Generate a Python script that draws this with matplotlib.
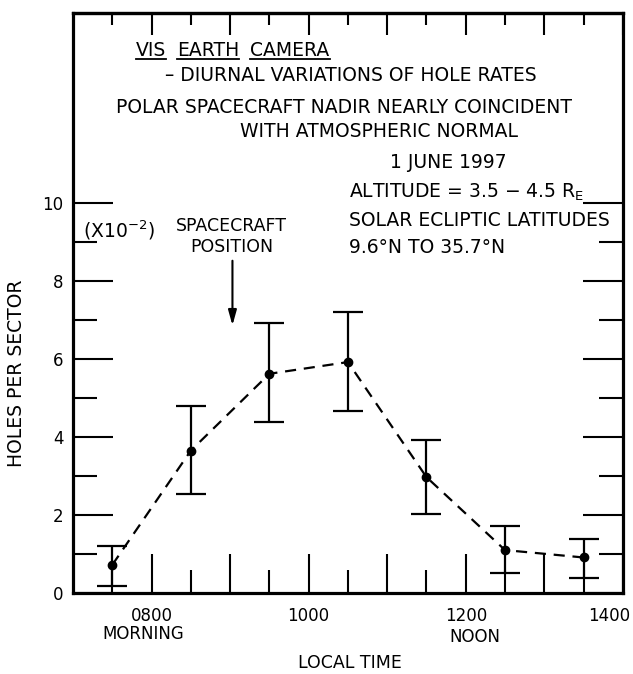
import matplotlib
matplotlib.use("Agg")
import matplotlib.pyplot as plt
import matplotlib.transforms as mtransforms
import numpy as np

# local time of each sample, decimal hours
local_time = [7.5, 8.5, 9.5, 10.5, 11.5, 12.5, 13.5]
# holes per sector (x 10^-2) with error bar ends
holes = [0.72, 3.65, 5.62, 5.92, 2.97, 1.10, 0.91]
holes_low = [0.18, 2.54, 4.38, 4.67, 2.03, 0.52, 0.38]
holes_high = [1.21, 4.79, 6.92, 7.20, 3.92, 1.72, 1.38]

hour_ticks = [8, 9, 10, 11, 12, 13, 14]
hour_labels = ['0800', '', '1000', '', '1200', '', '1400']
half_hour_ticks = [7.5, 8.5, 9.5, 10.5, 11.5, 12.5, 13.5]
y_ticks = [0, 2, 4, 6, 8, 10]
y_minor = [1, 3, 5, 7, 9]

plt.rcParams['font.family'] = ['DejaVu Sans']
FS = 13.5      # annotation text
TFS = 12       # tick labels

fig = plt.figure(figsize=(6.33, 6.74), dpi=100)
ax = fig.add_axes([0.1153, 0.1202, 0.8687, 0.8605])

y = np.array(holes)
yerr = [y - np.array(holes_low), np.array(holes_high) - y]
ax.errorbar(local_time, holes, yerr=yerr, fmt='o', color='black', ms=6,
            elinewidth=1.6, capsize=11, capthick=1.6, zorder=3)
ax.plot(local_time, holes, color='black', lw=1.6, linestyle=(0, (5, 3.5)), zorder=2)

ax.set_xlim(7, 14)
ax.set_ylim(0, 14.87)

for s in ax.spines.values():
    s.set_linewidth(2.3)

# bottom / left / right ticks
ax.set_xticks(hour_ticks)
ax.set_xticklabels(hour_labels, fontsize=TFS)
ax.set_xticks(half_hour_ticks, minor=True)
ax.set_yticks(y_ticks)
ax.set_yticklabels([str(v) for v in y_ticks], fontsize=TFS)
ax.set_yticks(y_minor, minor=True)
ax.tick_params(axis='x', which='both', direction='in', top=False, bottom=True, width=1.5, pad=10)
ax.tick_params(axis='x', which='major', length=28)
ax.tick_params(axis='x', which='minor', length=16.5)
ax.tick_params(axis='y', which='both', direction='in', left=True, right=True, width=1.5, pad=7)
ax.tick_params(axis='y', which='major', length=29)
ax.tick_params(axis='y', which='minor', length=17)

# last label sits against the right edge
lbl = ax.get_xticklabels()[-1]
lbl.set_transform(lbl.get_transform() + mtransforms.ScaledTranslation(-14 / 100, 0, fig.dpi_scale_trans))

# top ticks are shorter
top = ax.secondary_xaxis('top')
top.set_xticks(hour_ticks)
top.set_xticks(half_hour_ticks, minor=True)
top.set_xticklabels([])
top.tick_params(which='both', direction='in', width=1.5)
top.tick_params(which='major', length=16)
top.tick_params(which='minor', length=8.5)
top.spines['top'].set_linewidth(2.3)

ax.set_ylabel('HOLES PER SECTOR', fontsize=FS)
ax.yaxis.set_label_coords(-0.085, 5.64 / 14.87)
ax.text(10.53, -1.79, 'LOCAL TIME', fontsize=TFS + 0.5, ha='center', va='center', clip_on=False)
ax.text(7.89, -1.05, 'MORNING', fontsize=TFS, ha='center', va='center', clip_on=False)
ax.text(12.12, -1.13, 'NOON', fontsize=TFS, ha='center', va='center', clip_on=False)

# title block
ax.text(8.17, 13.26, '\u2013 DIURNAL VARIATIONS OF HOLE RATES', fontsize=FS, ha='left', va='center')
ax.text(7.55, 12.44, 'POLAR SPACECRAFT NADIR NEARLY COINCIDENT', fontsize=FS, ha='left', va='center')
ax.text(9.13, 11.82, 'WITH ATMOSPHERIC NORMAL', fontsize=FS, ha='left', va='center')
ax.text(11.03, 11.03, '1 JUNE 1997', fontsize=FS, ha='left', va='center')
ax.text(10.51, 10.26, r'ALTITUDE = 3.5 $-$ 4.5 R$_\mathregular{E}$', fontsize=FS, ha='left', va='center')
ax.text(10.51, 9.56, 'SOLAR ECLIPTIC LATITUDES', fontsize=FS, ha='left', va='center')
ax.text(10.51, 8.85, '9.6\u00b0N TO 35.7\u00b0N', fontsize=FS, ha='left', va='center')
ax.text(7.13, 9.31, r'(X10$^\mathregular{-2}$)', fontsize=FS, ha='left', va='center')
ax.text(9.02, 9.13, 'SPACECRAFT\nPOSITION', fontsize=12.5, ha='center', va='center', linespacing=1.2)
ax.annotate('', xy=(9.03, 6.79), xytext=(9.03, 8.59),
            arrowprops=dict(arrowstyle='-|>,head_length=0.9,head_width=0.25', lw=1.5, color='black'))

# camera name, each word underlined separately
fig.canvas.draw()
renderer = fig.canvas.get_renderer()
inv = ax.transData.inverted()
x_px = ax.transData.transform((7.80, 0))[0]
base_px = ax.transData.transform((0, 13.76))[1]
for w in ['VIS', 'EARTH', 'CAMERA']:
    xd = inv.transform((x_px, base_px))[0]
    t = ax.text(xd, 13.76, w, fontsize=FS, ha='left', va='baseline')
    bb = t.get_window_extent(renderer)
    x0 = inv.transform((bb.x0, 0))[0]
    x1 = inv.transform((bb.x1, 0))[0]
    ax.plot([x0, x1], [13.68, 13.68], color='black', lw=1.3, clip_on=False)
    x_px = bb.x1 + 11

fig.savefig('out.png', dpi=100)
